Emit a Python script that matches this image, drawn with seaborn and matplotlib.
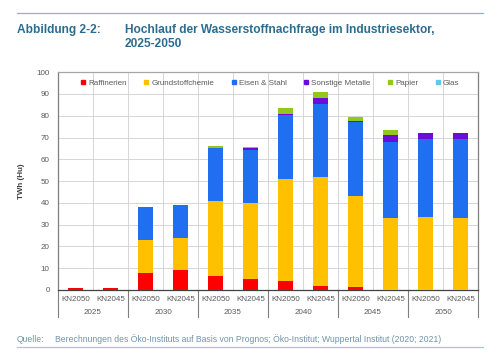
import numpy as np
import pandas as pd
import seaborn as sns
import matplotlib.pyplot as plt
from matplotlib.lines import Line2D

# Werte (TWh, Hu)
jahre = ["2025", "2030", "2035", "2040", "2045", "2050"]
szenarien = ["KN2050", "KN2045"]
raffinerien = [0.8, 0.8, 8.0, 9.0, 6.3, 5.0, 4.1, 2.0, 1.2, 0.0, 0.0, 0.0]
grundstoffchemie = [0.0, 0.0, 14.8, 15.0, 34.7, 34.8, 46.9, 50.0, 41.8, 33.0, 33.4, 33.0]
eisen_stahl = [0.0, 0.0, 15.3, 15.2, 24.0, 24.7, 29.5, 33.3, 34.2, 35.1, 36.0, 36.4]
sonstige_metalle = [0.0, 0.0, 0.0, 0.0, 0.2, 0.5, 0.3, 2.7, 0.3, 2.9, 2.7, 2.7]
papier = [0.0, 0.0, 0.0, 0.0, 0.8, 0.8, 2.8, 3.0, 2.1, 2.4, 0.0, 0.0]
glas = [0.0] * 12

kategorien = ["Raffinerien", "Grundstoffchemie", "Eisen & Stahl",
              "Sonstige Metalle", "Papier", "Glas"]
farben = ["#FF0000", "#FFC000", "#1F6FF0", "#6A0DD8", "#92C81E", "#5EC8F5"]
werte = [raffinerien, grundstoffchemie, eisen_stahl, sonstige_metalle, papier, glas]

balken = [f"{j} {s}" for j in jahre for s in szenarien]
df = pd.DataFrame({"balken": balken})
kum = np.cumsum(np.array(werte), axis=0)
for i, k in enumerate(kategorien):
    df[k] = kum[i]

plt.rcParams["font.family"] = ["Liberation Sans", "DejaVu Sans"]
fig = plt.figure(figsize=(5.0, 3.53), dpi=100)
ax = fig.add_axes([0.116, 0.1785, 0.84, 0.617])

# gestapelt: von oben nach unten überzeichnen
for k, c in reversed(list(zip(kategorien, farben))):
    sns.barplot(data=df, x="balken", y=k, order=balken, color=c,
                width=0.41, saturation=1, ax=ax, zorder=3)

ax.set_ylim(0, 100)
ax.set_xlim(-0.5, len(balken) - 0.5)
ax.set_yticks(range(0, 101, 10))
ax.set_xticks(range(len(balken)))
ax.set_xticklabels([s for j in jahre for s in szenarien])
ax.set_xticks(np.arange(-0.5, len(balken), 1.0), minor=True)
ax.grid(axis="y", which="major", color="#D0D0D0", lw=0.6, zorder=0)
ax.grid(axis="x", which="minor", color="#D0D0D0", lw=0.6, zorder=0)
ax.tick_params(axis="both", which="both", length=0, labelsize=5.8,
               labelcolor="#5A5A5A")
ax.tick_params(axis="x", pad=4)
ax.tick_params(axis="y", pad=6)
ax.set_xlabel("")
ax.set_ylabel("TWh (Hu)", fontsize=5.8, fontweight="bold", color="#404040",
              labelpad=8)
for side in ["left", "right"]:
    ax.spines[side].set_color("#7F7F7F")
    ax.spines[side].set_linewidth(0.9)
ax.spines["top"].set_color("#A6A6A6")
ax.spines["top"].set_linewidth(0.9)
ax.spines["bottom"].set_color("#404040")
ax.spines["bottom"].set_linewidth(0.9)

# Jahresgruppen unter der Achse
trans = ax.get_xaxis_transform()
for g in range(len(jahre) + 1):
    ax.plot([g * 2 - 0.5] * 2, [0, -0.122], transform=trans, color="#7F7F7F",
            lw=0.8, clip_on=False)
for g, j in enumerate(jahre):
    ax.text(g * 2 + 0.5, -0.105, j, transform=trans, ha="center", va="center",
            fontsize=5.8, color="#5A5A5A")

handles = [Line2D([], [], marker="s", ls="", color=c, markersize=3.2)
           for c in farben]
ax.legend(handles, kategorien, ncol=6, loc="upper center", frameon=False,
          fontsize=5.8, labelcolor="#5A5A5A", handlelength=0.6,
          handletextpad=0.3, columnspacing=2.15, bbox_to_anchor=(0.505, 1.0),
          borderaxespad=0.5)

# Kopf und Quelle
titel_farbe = "#2C6D8F"
fig.add_artist(Line2D([0.034, 0.966], [1 - 13 / 353] * 2, color="#8DB3C6", lw=0.9))
fig.text(0.034, 1 - 30 / 353, "Abbildung 2-2:", fontsize=8.6, fontweight="bold",
         color=titel_farbe, va="center")
fig.text(0.25, 1 - 30 / 353, "Hochlauf der Wasserstoffnachfrage im Industriesektor,",
         fontsize=8.6, fontweight="bold", color=titel_farbe, va="center")
fig.text(0.25, 1 - 44 / 353, "2025-2050", fontsize=8.6, fontweight="bold",
         color=titel_farbe, va="center")
fig.text(0.034, 1 - 342.5 / 353, "Quelle:", fontsize=6.2, color="#7393A8",
         va="baseline")
fig.text(0.11, 1 - 342.5 / 353,
         "Berechnungen des Öko-Instituts auf Basis von Prognos; Öko-Institut; "
         "Wuppertal Institut (2020; 2021)",
         fontsize=6.2, color="#7393A8", va="baseline")
fig.add_artist(Line2D([0.034, 0.966], [1 - 347 / 353] * 2, color="#A9C7D3", lw=0.9))

fig.savefig("out.png", dpi=100)
